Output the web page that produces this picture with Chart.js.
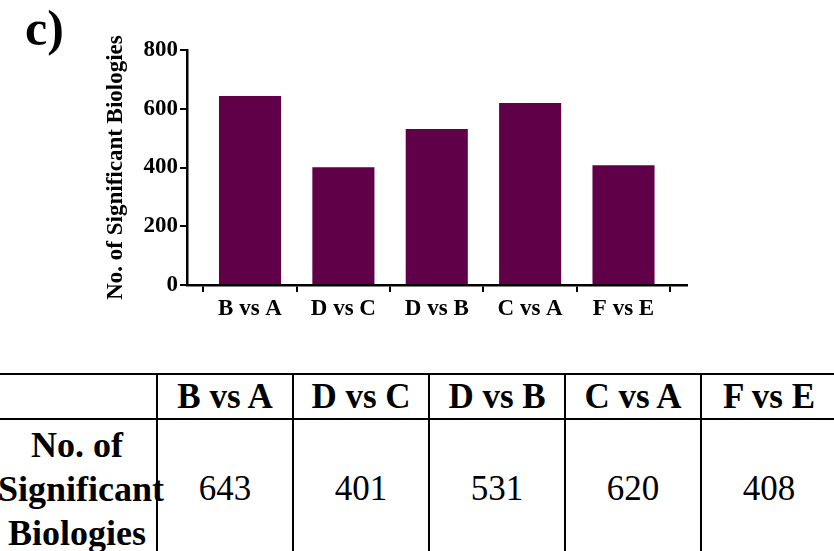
<!DOCTYPE html>
<html>
<head>
<meta charset="utf-8">
<script src="https://cdn.jsdelivr.net/npm/chart.js@4/dist/chart.umd.min.js"></script>
<style>
  html, body { margin: 0; padding: 0; background: #fff; }
  body { width: 834px; height: 551px; position: relative; overflow: hidden; }
  #panel { position: absolute; left: 25px; top: 3px; font-family: "Liberation Serif", serif; font-size: 50px; font-weight: bold; line-height: 50px; }
  #chart-box { position: absolute; left: 0; top: 0; width: 834px; height: 340px; }
  #data-table { position: absolute; left: -4px; top: 373px; width: 840px; border-collapse: collapse; table-layout: fixed; }
  #data-table td, #data-table th { font-family: "Liberation Serif", serif; border: 2px solid #000; text-align: center; vertical-align: middle; padding: 0; color: #000; }
  #data-table th { height: 43px; font-size: 35px; font-weight: bold; }
  #data-table td { height: 138px; font-size: 35px; font-weight: normal; }
  #data-table td.rowhead { font-size: 36px; font-weight: bold; line-height: 44px; white-space: nowrap; overflow: visible; }
</style>
</head>
<body>
<div id="panel">c)</div>
<div id="chart-box"><canvas id="bar-chart" width="834" height="340"></canvas></div>
<table id="data-table"></table>
<script>
const categories = ["B vs A", "D vs C", "D vs B", "C vs A", "F vs E"];
const significantCounts = [643, 401, 531, 620, 408];
const yTicks = [0, 200, 400, 600, 800];
const yTitle = "No. of Significant Biologies";
const rowTitle = ["No. of", "Significant", "Biologies"];
const barColor = "#5f0048";

function buildTable() {
    const table = document.getElementById("data-table");
    const colgroup = document.createElement("colgroup");
    const firstCol = document.createElement("col");
    firstCol.style.width = "160px";
    colgroup.appendChild(firstCol);
    categories.forEach(() => {
        const col = document.createElement("col");
        col.style.width = "136px";
        colgroup.appendChild(col);
    });
    table.appendChild(colgroup);

    const headRow = document.createElement("tr");
    headRow.appendChild(document.createElement("th"));
    categories.forEach(label => {
        const th = document.createElement("th");
        th.textContent = label;
        headRow.appendChild(th);
    });
    table.appendChild(headRow);

    const valueRow = document.createElement("tr");
    const rowHead = document.createElement("td");
    rowHead.className = "rowhead";
    rowHead.innerHTML = rowTitle.join("<br>");
    valueRow.appendChild(rowHead);
    significantCounts.forEach(value => {
        const td = document.createElement("td");
        td.textContent = value;
        valueRow.appendChild(td);
    });
    table.appendChild(valueRow);
}

function drawChart() {
    const ctx = document.getElementById("bar-chart");
    const points = significantCounts.map((value, i) => ({ x: i, y: value }));
    const tickFont = { family: "Liberation Serif", size: 23, weight: "bold" };

    new Chart(ctx, {
        type: "bar",
        data: {
            datasets: [{
                data: points,
                backgroundColor: barColor,
                borderWidth: 0,
                barPercentage: 0.665,
                categoryPercentage: 1
            }]
        },
        options: {
            responsive: false,
            animation: false,
            layout: { padding: { left: 0, right: 147, top: 50, bottom: 0 } },
            plugins: {
                legend: { display: false },
                tooltip: { enabled: false }
            },
            scales: {
                x: {
                    type: "linear",
                    offset: false,
                    min: -0.675,
                    max: 4.68,
                    afterBuildTicks: scale => {
                        scale.ticks = categories.map((c, i) => ({ value: i }));
                    },
                    afterFit: scale => { scale.height = 55; },
                    ticks: {
                        callback: value => categories[value],
                        color: "#000",
                        font: tickFont,
                        padding: 3,
                        maxRotation: 0,
                        autoSkip: false
                    },
                    grid: { drawOnChartArea: false, drawTicks: true, tickLength: 7, color: "#000", lineWidth: 2 },
                    border: { color: "#000", width: 2.5 }
                },
                y: {
                    min: 0,
                    max: 800,
                    afterBuildTicks: scale => {
                        scale.ticks = yTicks.map(v => ({ value: v }));
                    },
                    afterFit: scale => { scale.width = 187; },
                    ticks: {
                        color: "#000",
                        font: tickFont,
                        padding: 2
                    },
                    title: {
                        display: true,
                        text: yTitle,
                        color: "#000",
                        font: { family: "Liberation Serif", size: 23, weight: "bold" },
                        padding: { top: 102, bottom: 0 }
                    },
                    grid: { drawOnChartArea: false, drawTicks: true, tickLength: 7, color: "#000", lineWidth: 2 },
                    border: { color: "#000", width: 2.5 }
                }
            }
        }
    });
}

buildTable();
drawChart();
</script>
</body>
</html>
